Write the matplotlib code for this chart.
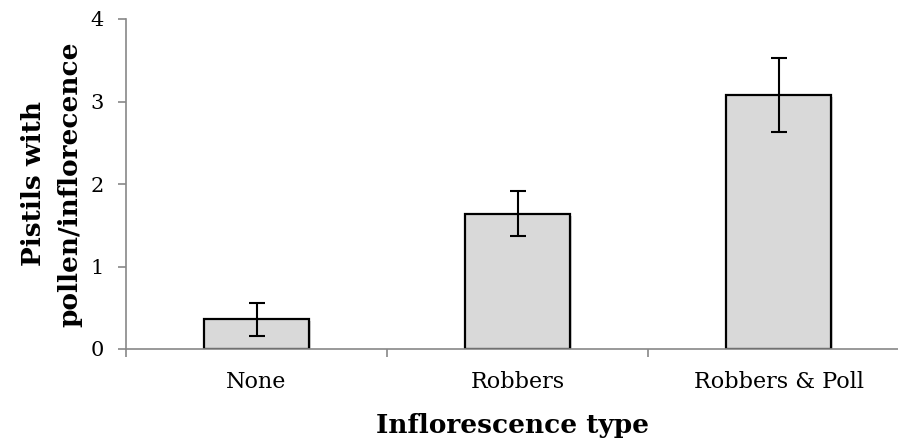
import matplotlib
matplotlib.use("Agg")
import matplotlib.pyplot as plt
import matplotlib.patheffects as pe
import numpy as np

# mean pistils with pollen per inflorescence, with error (SE)
categories = ['None', 'Robbers', 'Robbers & Poll']
means = [0.36, 1.64, 3.08]
errors = [0.20, 0.27, 0.45]
yticks = [0, 1, 2, 3, 4]

plt.rcParams['font.family'] = 'DejaVu Serif'

fig = plt.figure(figsize=(8.98, 4.43), dpi=100)
ax = fig.add_axes([126/898, 1 - 349/443, (898 - 126)/898, 330/443])

x = np.arange(len(categories))
bars = ax.bar(x, means, width=0.4, color='#d9d9d9', edgecolor='black', linewidth=1.6, zorder=2)
for b in bars:
    b.set_path_effects([pe.SimplePatchShadow(offset=(1.5, -1.5), shadow_rgbFace='#999999', alpha=0.4),
                        pe.Normal()])
ax.errorbar(x, means, yerr=errors, fmt='none', ecolor='black', elinewidth=1.5,
            capsize=5.5, capthick=1.5, zorder=3)

ax.set_xlim(-0.5, (898 - 126)/261 - 0.5)
ax.set_ylim(0, 4)
ax.set_yticks(yticks)
ax.set_yticklabels([str(t) for t in yticks], fontsize=15)

# category labels sit between the boundary ticks
ax.set_xticks(x)
ax.set_xticklabels(categories, fontsize=16)
ax.tick_params(axis='x', length=0, pad=16)
ax.set_xticks([-0.5, 0.5, 1.5], minor=True)
ax.tick_params(axis='x', which='minor', length=6, color='#888888', width=1.2)
ax.tick_params(axis='y', length=6, color='#888888', width=1.2, pad=10)

for side in ['top', 'right']:
    ax.spines[side].set_visible(False)
for side in ['left', 'bottom']:
    ax.spines[side].set_color('#888888')
    ax.spines[side].set_linewidth(1.2)

ax.set_ylabel('Pistils with\npollen/inflorecence', fontsize=19, fontweight='bold',
              linespacing=1.55, labelpad=6)
ax.set_xlabel('Inflorescence type', fontsize=19, fontweight='bold', labelpad=14)

fig.savefig('out.png', dpi=100)
